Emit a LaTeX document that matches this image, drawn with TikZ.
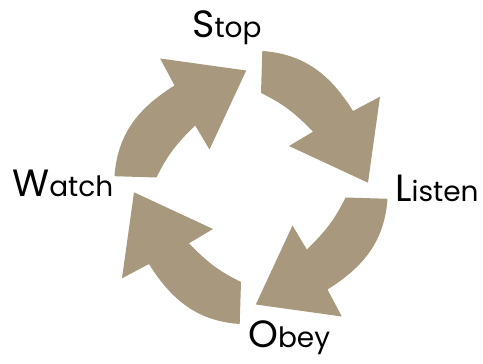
\documentclass[tikz,border=0pt]{standalone}
\usepackage{fontspec}
\setmainfont{Poppins}
\definecolor{taupe}{RGB}{168,152,126}
\newcommand\bigfirst[1]{{\fontsize{38}{40}\selectfont #1}}
\newcommand\restword[1]{{\fontsize{28}{30}\selectfont #1}}
\tikzset{
  lbl/.style={inner sep=0pt, anchor=base west, text=black},
  cyclearrow/.pic={
    \fill[taupe] (11.3,136.5) to[out=-4,in=122] (102,76.5)
      -- (129,90.8) -- (117,4.8)
      -- (38,41.5) -- (62,55.8) to[out=134,in=-26] (10,94.5) -- cycle;
  }
}
\begin{document}
\begin{tikzpicture}[x=1pt,y=1pt]
\useasboundingbox (0,0) rectangle (483,364);
\coordinate (C) at (251,176.5);
\pic at (C) {cyclearrow};
\pic[rotate=-90] at (C) {cyclearrow};
\pic[rotate=180] at (C) {cyclearrow};
\pic[rotate=90] at (C) {cyclearrow};
\node[lbl] (stop) at (192,326.5) {\bigfirst{S}\restword{top}};
\node[lbl] (listen) at (395,162.3) {\bigfirst{L}\restword{isten}};
\node[lbl] (watch) at (12,167) {\bigfirst{W}\restword{atch}};
\node[lbl] (obey) at (248,16) {\bigfirst{O}\restword{bey}};
\end{tikzpicture}
\end{document}
